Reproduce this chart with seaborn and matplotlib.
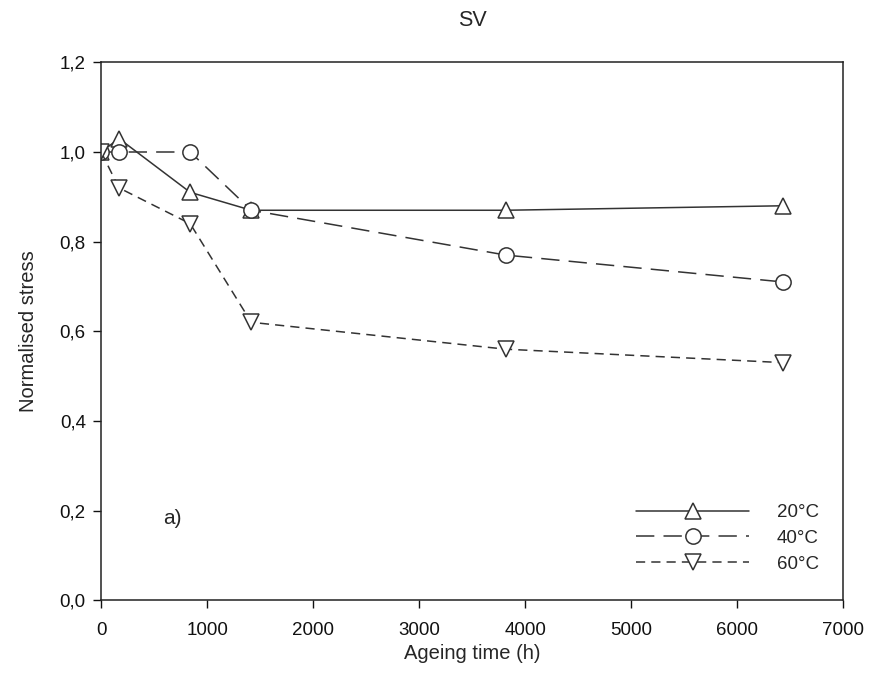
import numpy as np
import pandas as pd
import matplotlib
matplotlib.use("Agg")
import matplotlib.pyplot as plt
import seaborn as sns

# ageing times (h)
hours = [0, 168, 840, 1416, 3816, 6432]
stress_20 = [1.00, 1.03, 0.91, 0.87, 0.87, 0.88]
stress_40 = [1.00, 1.00, 1.00, 0.87, 0.77, 0.71]
stress_60 = [1.00, 0.92, 0.84, 0.62, 0.56, 0.53]
labels = ["20°C", "40°C", "60°C"]

df = pd.DataFrame({
    "hours": hours * 3,
    "stress": stress_20 + stress_40 + stress_60,
    "temp": [labels[0]] * 6 + [labels[1]] * 6 + [labels[2]] * 6,
})

sns.set_style("ticks")
plt.rcParams["font.family"] = ["Liberation Sans", "DejaVu Sans"]

fig = plt.figure(figsize=(8.72, 6.93), dpi=100)
ax = fig.add_axes([0.116, 0.134, 0.851, 0.776])

markers = ["^", "o", "v"]
dashes = [(None, None), (12, 6), (6, 4)]
for lab, mk, ds in zip(labels, markers, dashes):
    sub = df[df["temp"] == lab]
    sns.lineplot(data=sub, x="hours", y="stress", ax=ax, color="#333333",
                 lw=1.1, marker=mk, markersize=11, markerfacecolor="white",
                 markeredgecolor="#333333", markeredgewidth=1.1, label=lab)
    line = ax.get_lines()[-1]
    if ds[0] is not None:
        line.set_dashes(ds)

ax.set_xlim(0, 7000)
ax.set_ylim(0, 1.2)
ax.set_xticks(range(0, 7001, 1000))
ax.set_yticks(np.arange(0, 1.21, 0.2))
ax.set_yticklabels([f"{v:.1f}".replace(".", ",") for v in np.arange(0, 1.21, 0.2)])
ax.tick_params(direction="out", length=6, width=1, labelsize=13.5, colors="#111111")
ax.tick_params(axis="x", pad=10)
ax.tick_params(axis="y", pad=5)
for s in ax.spines.values():
    s.set_linewidth(1.1)
    s.set_color("#222222")
ax.set_xlabel("Ageing time (h)", fontsize=14.5, labelpad=3)
ax.set_ylabel("Normalised stress", fontsize=14.5, labelpad=16)
ax.set_title("SV", fontsize=15.5, pad=26)
ax.text(585, 0.17, "a)", fontsize=15)

ax.legend(loc="lower right", bbox_to_anchor=(0.99, 0.02), frameon=False,
          handlelength=6, fontsize=13.5, handletextpad=1.5, labelspacing=0.45)

fig.savefig("out.png", dpi=100)
